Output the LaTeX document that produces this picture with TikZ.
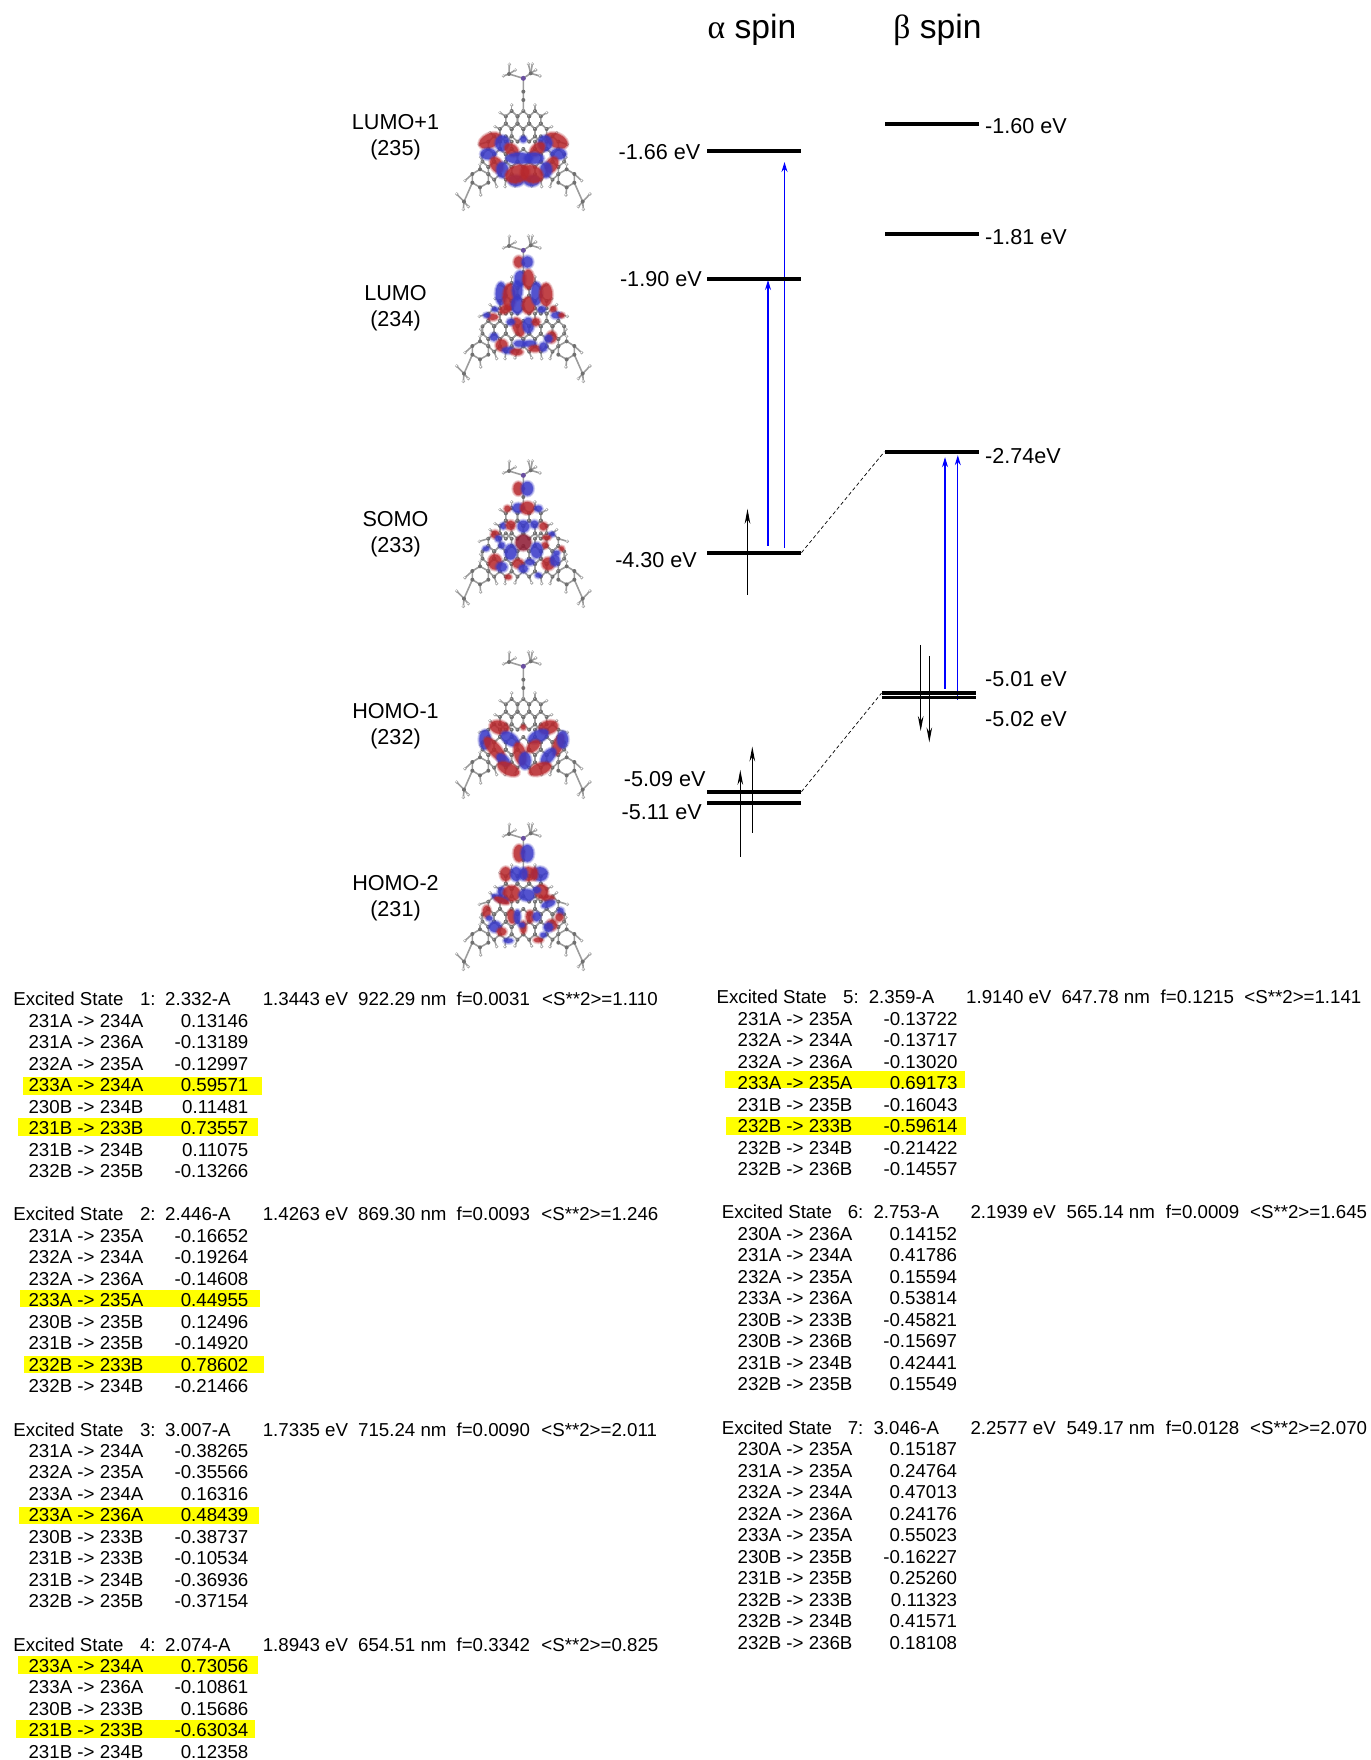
\documentclass[tikz,border=0pt]{standalone}
\usepackage{fontspec}
\setmainfont{Liberation Sans}
\newfontfamily\grk{Liberation Serif}
\usetikzlibrary{arrows.meta}
\definecolor{lober}{HTML}{B8282D}
\definecolor{lobeb}{HTML}{3A3AC8}
\definecolor{lobed}{HTML}{8E1C35}
\definecolor{atomc}{HTML}{707070}
\definecolor{atomh}{HTML}{B4B4B4}
\definecolor{hatom}{HTML}{A8A8A8}
\definecolor{natom}{HTML}{6A4FA0}
\definecolor{bondc}{HTML}{9C9C9C}
\definecolor{hl}{HTML}{FFFF00}
\definecolor{upblue}{HTML}{0000FF}
\tikzset{
  tb/.style={font=\fontsize{9.35}{10}\selectfont,inner sep=0pt,anchor=west,text height=6.7pt,text depth=0pt},
  tv/.style={tb,anchor=east},
  el/.style={font=\fontsize{10.8}{12}\selectfont,inner sep=0pt,text height=7.75pt,text depth=0pt},
  ttl/.style={font=\fontsize{16.8}{18}\selectfont,inner sep=0pt,text height=11.5pt,text depth=0pt},
  lvl/.style={fill=black,inner sep=0pt,minimum width=47.1pt,minimum height=2pt},
  lvlthin/.style={lvl,minimum height=1.7pt},
  ex/.style={draw=upblue,line width=0.55pt,-{Stealth[length=5pt,width=3pt]}},
  sp/.style={draw=black,line width=0.5pt,-{Stealth[length=7.5pt,width=2.8pt]}},
  conn/.style={draw=black,line width=0.35pt,dash pattern=on 1.8pt off 1.3pt},
  bond/.style={draw=bondc,line width=0.8pt},
}
\newcommand{\hexat}[2]{%
  \begin{scope}[shift={(#1,#2)}]
    \draw[bond] (0,-27)--(17.5,-11)--(17.5,11)--(0,27)--(-17.5,11)--(-17.5,-11)--cycle;
    \fill[atomc] (0,-27) circle (6) (17.5,-11) circle (6) (17.5,11) circle (6) (0,27) circle (6) (-17.5,11) circle (6) (-17.5,-11) circle (6);
    \fill[atomh] (-1.5,-28.5) circle (2.2) (16,-12.5) circle (2.2) (16,9.5) circle (2.2) (-1.5,25.5) circle (2.2) (-19,9.5) circle (2.2) (-19,-12.5) circle (2.2);
  \end{scope}}
\newcommand{\molecule}[2]{%
  \begin{scope}[shift={(440,#1)},x=0.16667pt,y=-0.16667pt]
    % side groups and hydrogens
    \foreach \s in {-1,1}{
      \foreach \px/\py/\qx/\qy in {35/183/35/165,52.5/199/70/188,70/237/85/230,87.5/259/100/248,105/275/132/283,122.5/335/128/322,17.5/389/25/408,52.5/389/55/410,87.5/389/80/410,130/358/130/343,153/372/175/392,130/412/128/435,153/398/178/455,178/455/200/432,178/455/180/478,178/455/165/470}{
        \draw[bond] ({250+\s*\px},\py)--({250+\s*\qx},\qy);
        \fill[hatom] ({250+\s*\qx},\qy) circle (5.5);
        \fill[white] ({250+\s*\qx-1},{\qy-1}) circle (2.5);
      }
      \draw[bond] ({250+\s*130},358)--({250+\s*153},372)--({250+\s*153},398)--({250+\s*130},412)--({250+\s*105},398)--({250+\s*105},372)--cycle;
      \fill[atomc] ({250+\s*130},358) circle (6) ({250+\s*153},372) circle (6) ({250+\s*153},398) circle (6) ({250+\s*130},412) circle (6) ({250+\s*105},398) circle (6) ({250+\s*105},372) circle (6) ({250+\s*178},455) circle (6);
    }
    % triangular core
    \foreach \cx/\cy in {215/210,250/210,285/210,197.5/248,232.5/248,267.5/248,302.5/248,162.5/286,197.5/286,302.5/286,337.5/286,145/324,180/324,215/324,250/324,285/324,320/324,355/324,162.5/362,197.5/362,232.5/362,267.5/362,302.5/362,337.5/362}{\hexat{\cx}{\cy}}
    % amine head
    \draw[bond] (250,183)--(250,85)--(207,72) (250,85)--(272,70);
    \foreach \hx/\hy/\ox/\oy in {208/43/207/72,190/78/207/72,226/60/207/72,265/42/272/70,277/42/272/70,300/78/272/70,287/60/272/70}{
      \draw[bond] (\ox,\oy)--(\hx,\hy);
      \fill[hatom] (\hx,\hy) circle (5.5);
      \fill[white] ({\hx-1},{\hy-1}) circle (2.5);
    }
    \fill[atomc] (250,125) circle (6) (250,150) circle (6) (207,72) circle (6) (272,70) circle (6);
    \fill[natom] (250,85) circle (7.5);
    % orbital lobes
    \foreach \lc/\lx/\ly/\la/\lb/\lr in {#2}{
      \fill[lobe\lc,opacity=0.22,rotate around={\lr:(\lx,\ly)}] (\lx,\ly) ellipse ({1.15*\la+6} and {1.15*\lb+6});
      \fill[lobe\lc,opacity=0.35,rotate around={\lr:(\lx,\ly)}] (\lx,\ly) ellipse ({1.15*\la+3} and {1.15*\lb+3});
      \fill[lobe\lc,opacity=0.75,rotate around={\lr:(\lx,\ly)}] (\lx,\ly) ellipse ({1.15*\la} and {1.15*\lb});
    }
  \end{scope}}
\newcommand{\rows}[5]{%
  \foreach \lab/\val [count=\i] in {#5}{
    \node[tb] (#1l\i) at (#2,{#4+(\i-1)*21.5}) {\lab};
    \node[tv] (#1v\i) at (#3,{#4+(\i-1)*21.5}) {\val};
  }}
\newcommand{\header}[3]{%
  \foreach \hx/\txt [count=\i] in {#3}{
    \node[tb] (#1h\i) at (\hx,#2) {\txt};
  }}
\begin{document}
\begin{tikzpicture}[x=0.5pt,y=-0.5pt]
\useasboundingbox (0,0) rectangle (1370,1760);
% highlights
\fill[hl] (23,1077.3) rectangle (262.4,1095);
\fill[hl] (18.2,1118.3) rectangle (258,1135.7);
\fill[hl] (20.4,1289.7) rectangle (260.2,1307);
\fill[hl] (23.9,1356) rectangle (264.1,1373.3);
\fill[hl] (19.1,1506.7) rectangle (258.9,1524);
\fill[hl] (18.2,1656.3) rectangle (258,1673.7);
\fill[hl] (15.6,1720.3) rectangle (255,1737.7);
\fill[hl] (725.2,1071) rectangle (964.5,1088.3);
\fill[hl] (726.1,1117.3) rectangle (966.2,1134.7);
% titles
\node[ttl] (talpha) at (752,27.5) {{\grk α} spin};
\node[ttl] (tbeta) at (937.5,27.5) {{\grk β} spin};
% molecules
\molecule{50}{r/150/272/30/18/25,r/350/272/30/18/-25,b/187/280/18/20/0,b/315/280/18/20/0,b/145/312/20/14/0,b/355/312/20/14/0,r/215/300/20/14/-40,r/292/298/22/14/40,r/170/345/15/22/30,r/335/345/15/22/-30,b/187/360/15/20/0,b/318/360/15/20/0,b/238/325/35/14/0,b/282/325/25/14/0,b/228/392/20/14/0,b/275/392/20/14/0,r/232/372/32/22/20,r/275/372/30/22/-20,b/250/268/8/8/0}
\molecule{222}{r/236/120/12/15/0,b/262/120/14/15/0,b/240/170/14/20/0,r/265/172/14/25/0,b/183/215/14/30/0,r/208/225/16/35/0,b/232/205/13/25/0,b/232/250/16/22/0,r/265/250/16/22/0,b/290/215/14/30/0,r/318/218/16/30/0,r/195/262/15/10/30,b/165/262/8/6/0,r/158/285/14/8/0,b/140/280/8/6/0,r/340/262/8/8/0,b/350/280/14/8/0,r/365/280/7/6/0,b/305/262/10/8/0,r/235/315/14/25/20,b/265/310/14/20/0,r/288/300/10/10/0,b/212/300/10/8/0,b/162/345/10/10/0,r/185/370/15/15/0,b/205/385/16/8/0,r/230/390/16/8/0,b/240/365/16/8/0,b/270/365/16/8/0,r/285/380/16/8/0,b/310/375/10/12/0,r/335/345/12/15/0,b/325/350/10/10/0}
\molecule{447}{r/235/125/13/17/0,b/262/125/15/18/0,b/235/183/15/12/0,r/262/183/18/16/0,b/295/185/10/8/0,r/202/185/8/8/0,b/190/237/8/8/0,r/212/235/12/12/0,b/250/238/15/15/0,b/283/232/10/10/0,r/310/238/10/10/0,d/250/287/20/20/0,r/165/262/10/10/0,b/175/275/8/8/0,b/335/262/8/6/0,r/320/272/10/6/0,b/185/295/8/8/0,r/315/295/8/8/0,r/365/305/6/6/0,b/138/305/8/6/0,b/212/315/15/20/0,b/290/310/15/20/0,r/165/345/17/20/0,b/185/360/14/12/0,r/325/350/16/16/0,b/345/340/12/15/0,r/235/350/14/12/0,b/270/345/12/8/0,b/250/365/12/10/0,r/205/390/8/6/0,b/295/385/8/6/0,b/350/318/8/6/0}
\molecule{638}{r/178/268/25/17/-15,b/210/303/26/15/-35,b/135/305/15/25/0,r/165/335/40/15/-50,b/190/366/20/12/-40,r/205/393/30/15/-25,r/325/268/25/17/15,b/295/295/28/15/25,r/355/320/30/12/70,b/368/305/14/22/0,b/325/355/25/14/50,r/300/393/30/15/20,r/240/348/15/30/15,b/255/368/15/22/0,r/280/325/20/12/40,r/250/268/6/6/0}
\molecule{810}{r/237/130/14/22/0,b/262/130/16/22/0,r/197/192/14/18/0,b/228/192/14/18/0,r/265/192/16/18/0,b/250/192/10/16/0,b/300/192/20/18/0,r/283/192/8/16/0,b/185/245/10/12/0,r/215/250/22/20/0,b/260/255/20/15/0,r/305/245/16/18/0,b/290/240/10/8/0,b/180/265/22/8/-20,r/185/272/20/7/-20,r/325/265/15/8/0,b/325/282/18/8/20,r/140/305/10/16/0,b/148/325/8/6/0,r/215/320/10/18/10,b/232/320/8/18/0,r/270/320/10/16/0,b/290/320/10/12/0,b/362/305/8/10/0,r/358/322/10/10/0,b/165/350/16/14/0,r/185/365/12/10/0,b/205/392/12/6/0,r/250/352/8/16/0,b/245/345/8/6/0,r/335/345/14/14/0,b/325/352/12/12/0,r/295/390/12/6/0,b/310/375/8/6/0}
% molecule labels
\node[el] (m1a) at (395.5,122) {LUMO+1};
\node[el] (m1b) at (395.5,148) {(235)};
\node[el] (m2a) at (395.5,293) {LUMO};
\node[el] (m2b) at (395.5,319) {(234)};
\node[el] (m3a) at (395.5,518.5) {SOMO};
\node[el] (m3b) at (395.5,544.3) {(233)};
\node[el] (m4a) at (395.5,710.3) {HOMO-1};
\node[el] (m4b) at (395.5,736.9) {(232)};
\node[el] (m5a) at (395.5,882.5) {HOMO-2};
\node[el] (m5b) at (395.5,908.4) {(231)};
% excitation arrows
\coordinate (ba1) at (768,545.7);
\coordinate (ta1) at (768,280);
\coordinate (ba2) at (784.5,547.8);
\coordinate (ta2) at (784.5,162);
\coordinate (bb1) at (945,688.6);
\coordinate (tb1) at (945,457.2);
\coordinate (bb2) at (957.8,699.7);
\coordinate (tb2) at (957.8,455.2);
\draw[ex] (ba1)--(ta1);
\draw[ex] (ba2)--(ta2);
\draw[ex] (bb1)--(tb1);
\draw[ex] (bb2)--(tb2);
% levels
\node[lvl] (a166) at (754,150.7) {};
\node[lvl] (a190) at (754,278.7) {};
\node[lvl] (a430) at (754,552.6) {};
\node[lvl] (a509) at (754,791.6) {};
\node[lvl] (a511) at (754,802.6) {};
\node[lvl] (b160) at (931.9,123.7) {};
\node[lvl] (b181) at (931.9,233.7) {};
\node[lvl] (b274) at (931.9,451.7) {};
\node[lvlthin] (b501) at (929,693.1) {};
\node[lvlthin] (b502) at (929,697.6) {};
\draw[conn] (a430.east)--(b274.west);
\draw[conn] (a509.east)--(b501.west);
% spin arrows
\coordinate (s1b) at (747.5,594.6);
\coordinate (s1t) at (747.5,508.9);
\coordinate (s2b) at (740.3,856.7);
\coordinate (s2t) at (740.3,769.9);
\coordinate (s3b) at (752.3,832.6);
\coordinate (s3t) at (752.3,746.5);
\coordinate (s4b) at (920.7,644.9);
\coordinate (s4t) at (920.7,731);
\coordinate (s5b) at (929.3,655.9);
\coordinate (s5t) at (929.3,742.4);
\draw[sp] (s1b)--(s1t);
\draw[sp] (s2b)--(s2t);
\draw[sp] (s3b)--(s3t);
\draw[sp] (s4b)--(s4t);
\draw[sp] (s5b)--(s5t);
% energies
\node[el,anchor=east] (e1) at (700.7,151.7) {-1.66 eV};
\node[el,anchor=east] (e2) at (702.1,279) {-1.90 eV};
\node[el,anchor=east] (e3) at (697.3,559.5) {-4.30 eV};
\node[el,anchor=east] (e4) at (706,778.5) {-5.09 eV};
\node[el,anchor=east] (e5) at (702.1,811.9) {-5.11 eV};
\node[el,anchor=west] (e6) at (984.8,125.7) {-1.60 eV};
\node[el,anchor=west] (e7) at (984.8,237) {-1.81 eV};
\node[el,anchor=west] (e8) at (984.8,455.7) {-2.74eV};
\node[el,anchor=west] (e9) at (984.8,678.3) {-5.01 eV};
\node[el,anchor=west] (e10) at (984.8,718.3) {-5.02 eV};
% excited states, left
\header{a}{998.7}{13/Excited State,139.6/1:,164.8/2.332-A,262.4/1.3443 eV,357.8/922.29 nm,456.2/f=0.0031,541.8/<S**2>=1.110}
\rows{a}{28.2}{248.8}{1020.7}{231A -> 234A/0.13146,231A -> 236A/-0.13189,232A -> 235A/-0.12997,233A -> 234A/0.59571,230B -> 234B/0.11481,231B -> 233B/0.73557,231B -> 234B/0.11075,232B -> 235B/-0.13266}
\header{b}{1213.7}{13/Excited State,139.6/2:,164.8/2.446-A,262.4/1.4263 eV,357.8/869.30 nm,456.2/f=0.0093,541/<S**2>=1.246}
\rows{b}{28.2}{248.8}{1235.7}{231A -> 235A/-0.16652,232A -> 234A/-0.19264,232A -> 236A/-0.14608,233A -> 235A/0.44955,230B -> 235B/0.12496,231B -> 235B/-0.14920,232B -> 233B/0.78602,232B -> 234B/-0.21466}
\header{c}{1430}{13/Excited State,139.6/3:,164.8/3.007-A,262.4/1.7335 eV,357.8/715.24 nm,456.2/f=0.0090,541/<S**2>=2.011}
\rows{c}{28.2}{248.8}{1450.7}{231A -> 234A/-0.38265,232A -> 235A/-0.35566,233A -> 234A/0.16316,233A -> 236A/0.48439,230B -> 233B/-0.38737,231B -> 233B/-0.10534,231B -> 234B/-0.36936,232B -> 235B/-0.37154}
\header{d}{1645}{13/Excited State,139.6/4:,164.8/2.074-A,262.4/1.8943 eV,357.8/654.51 nm,456.2/f=0.3342,541/<S**2>=0.825}
\rows{d}{28.2}{248.8}{1665.7}{233A -> 234A/0.73056,233A -> 236A/-0.10861,230B -> 233B/0.15686,231B -> 233B/-0.63034,231B -> 234B/0.12358}
% excited states, right
\header{e}{996.7}{716.2/Excited State,842.7/5:,868.4/2.359-A,965.8/1.9140 eV,1061.1/647.78 nm,1160.3/f=0.1215,1244/<S**2>=1.141}
\rows{e}{737.2}{957.8}{1018.7}{231A -> 235A/-0.13722,232A -> 234A/-0.13717,232A -> 236A/-0.13020,233A -> 235A/0.69173,231B -> 235B/-0.16043,232B -> 233B/-0.59614,232B -> 234B/-0.21422,232B -> 236B/-0.14557}
\header{f}{1211.7}{721.4/Excited State,847.4/6:,873.1/2.753-A,970.1/2.1939 eV,1066.2/565.14 nm,1165.5/f=0.0009,1249.7/<S**2>=1.645}
\rows{f}{737.2}{957.5}{1233.7}{230A -> 236A/0.14152,231A -> 234A/0.41786,232A -> 235A/0.15594,233A -> 236A/0.53814,230B -> 233B/-0.45821,230B -> 236B/-0.15697,231B -> 234B/0.42441,232B -> 235B/0.15549}
\header{g}{1427.7}{721.4/Excited State,847.4/7:,873.1/3.046-A,970.1/2.2577 eV,1066.2/549.17 nm,1165.5/f=0.0128,1249.7/<S**2>=2.070}
\rows{g}{737.2}{957.5}{1449}{230A -> 235A/0.15187,231A -> 235A/0.24764,232A -> 234A/0.47013,232A -> 236A/0.24176,233A -> 235A/0.55023,230B -> 235B/-0.16227,231B -> 235B/0.25260,232B -> 233B/0.11323,232B -> 234B/0.41571,232B -> 236B/0.18108}
\end{tikzpicture}
\end{document}
